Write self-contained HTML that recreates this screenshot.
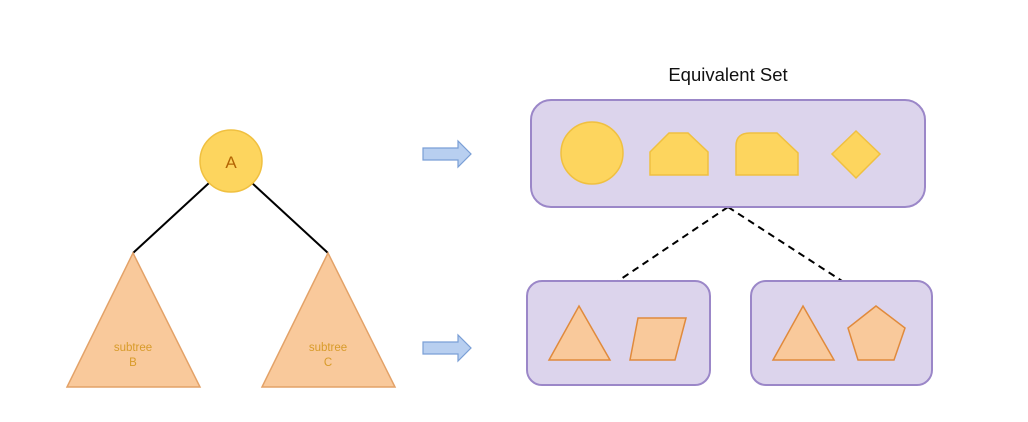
<!DOCTYPE html>
<html><head><meta charset="utf-8"><style>
html,body{margin:0;padding:0;background:#fff;}
svg{display:block;}
text{font-family:"Liberation Sans",Arial,sans-serif;}
</style></head><body>
<svg width="1028" height="422" viewBox="0 0 1028 422" xmlns="http://www.w3.org/2000/svg">
<rect width="1028" height="422" fill="#fff"/>
<line x1="209" y1="183" x2="133" y2="253" stroke="#000" stroke-width="2"/>
<line x1="252" y1="183" x2="328" y2="253" stroke="#000" stroke-width="2"/>
<polygon points="133,253 200,387 67,387" fill="#f9c99b" stroke="#e3a268" stroke-width="1.5"/>
<polygon points="328,253 395,387 262,387" fill="#f9c99b" stroke="#e3a268" stroke-width="1.5"/>
<text x="133" y="351" font-size="11.5" fill="#d89b2a" text-anchor="middle">subtree</text>
<text x="133" y="366" font-size="11.5" fill="#d89b2a" text-anchor="middle">B</text>
<text x="328" y="351" font-size="11.5" fill="#d89b2a" text-anchor="middle">subtree</text>
<text x="328" y="366" font-size="11.5" fill="#d89b2a" text-anchor="middle">C</text>
<circle cx="231" cy="161" r="31" fill="#fdd55e" stroke="#f0c040" stroke-width="1.5"/>
<text x="231" y="168" font-size="17" fill="#b46504" text-anchor="middle">A</text>
<polygon points="423,148 458,148 458,141 471,154 458,167 458,160 423,160" fill="#b8cff0" stroke="#7a9fd6" stroke-width="1.2"/>
<polygon points="423,342 458,342 458,335 471,348 458,361 458,354 423,354" fill="#b8cff0" stroke="#7a9fd6" stroke-width="1.2"/>
<text x="728" y="81" font-size="18.5" fill="#111" text-anchor="middle">Equivalent Set</text>
<line x1="728" y1="207" x2="618" y2="281" stroke="#000" stroke-width="2" stroke-dasharray="7,5"/>
<line x1="728" y1="207" x2="842" y2="281" stroke="#000" stroke-width="2" stroke-dasharray="7,5"/>
<rect x="531" y="100" width="394" height="107" rx="20" fill="#dcd4ec" stroke="#9b87c8" stroke-width="2"/>
<rect x="527" y="281" width="183" height="104" rx="15" fill="#dcd4ec" stroke="#9b87c8" stroke-width="2"/>
<rect x="751" y="281" width="181" height="104" rx="15" fill="#dcd4ec" stroke="#9b87c8" stroke-width="2"/>
<circle cx="592" cy="153" r="31" fill="#fdd55e" stroke="#f0c040" stroke-width="1.5"/>
<polygon points="650,152 669,133 688,133 708,152 708,175 650,175" fill="#fdd55e" stroke="#f0c040" stroke-width="1.5"/>
<path d="M736,175 L736,146 Q736,133 750,133 L777,133 L798,153 L798,175 Z" fill="#fdd55e" stroke="#f0c040" stroke-width="1.5"/>
<polygon points="856,131 880,154 856,178 832,154" fill="#fdd55e" stroke="#f0c040" stroke-width="1.5"/>
<polygon points="579,306 610,360 549,360" fill="#f9c99b" stroke="#e08a3c" stroke-width="1.5"/>
<polygon points="638,318 686,318 675,360 630,360" fill="#f9c99b" stroke="#e08a3c" stroke-width="1.5"/>
<polygon points="803,306 834,360 773,360" fill="#f9c99b" stroke="#e08a3c" stroke-width="1.5"/>
<polygon points="876,306 905,328 894,360 858,360 848,328" fill="#f9c99b" stroke="#e08a3c" stroke-width="1.5"/>
</svg>
</body></html>
